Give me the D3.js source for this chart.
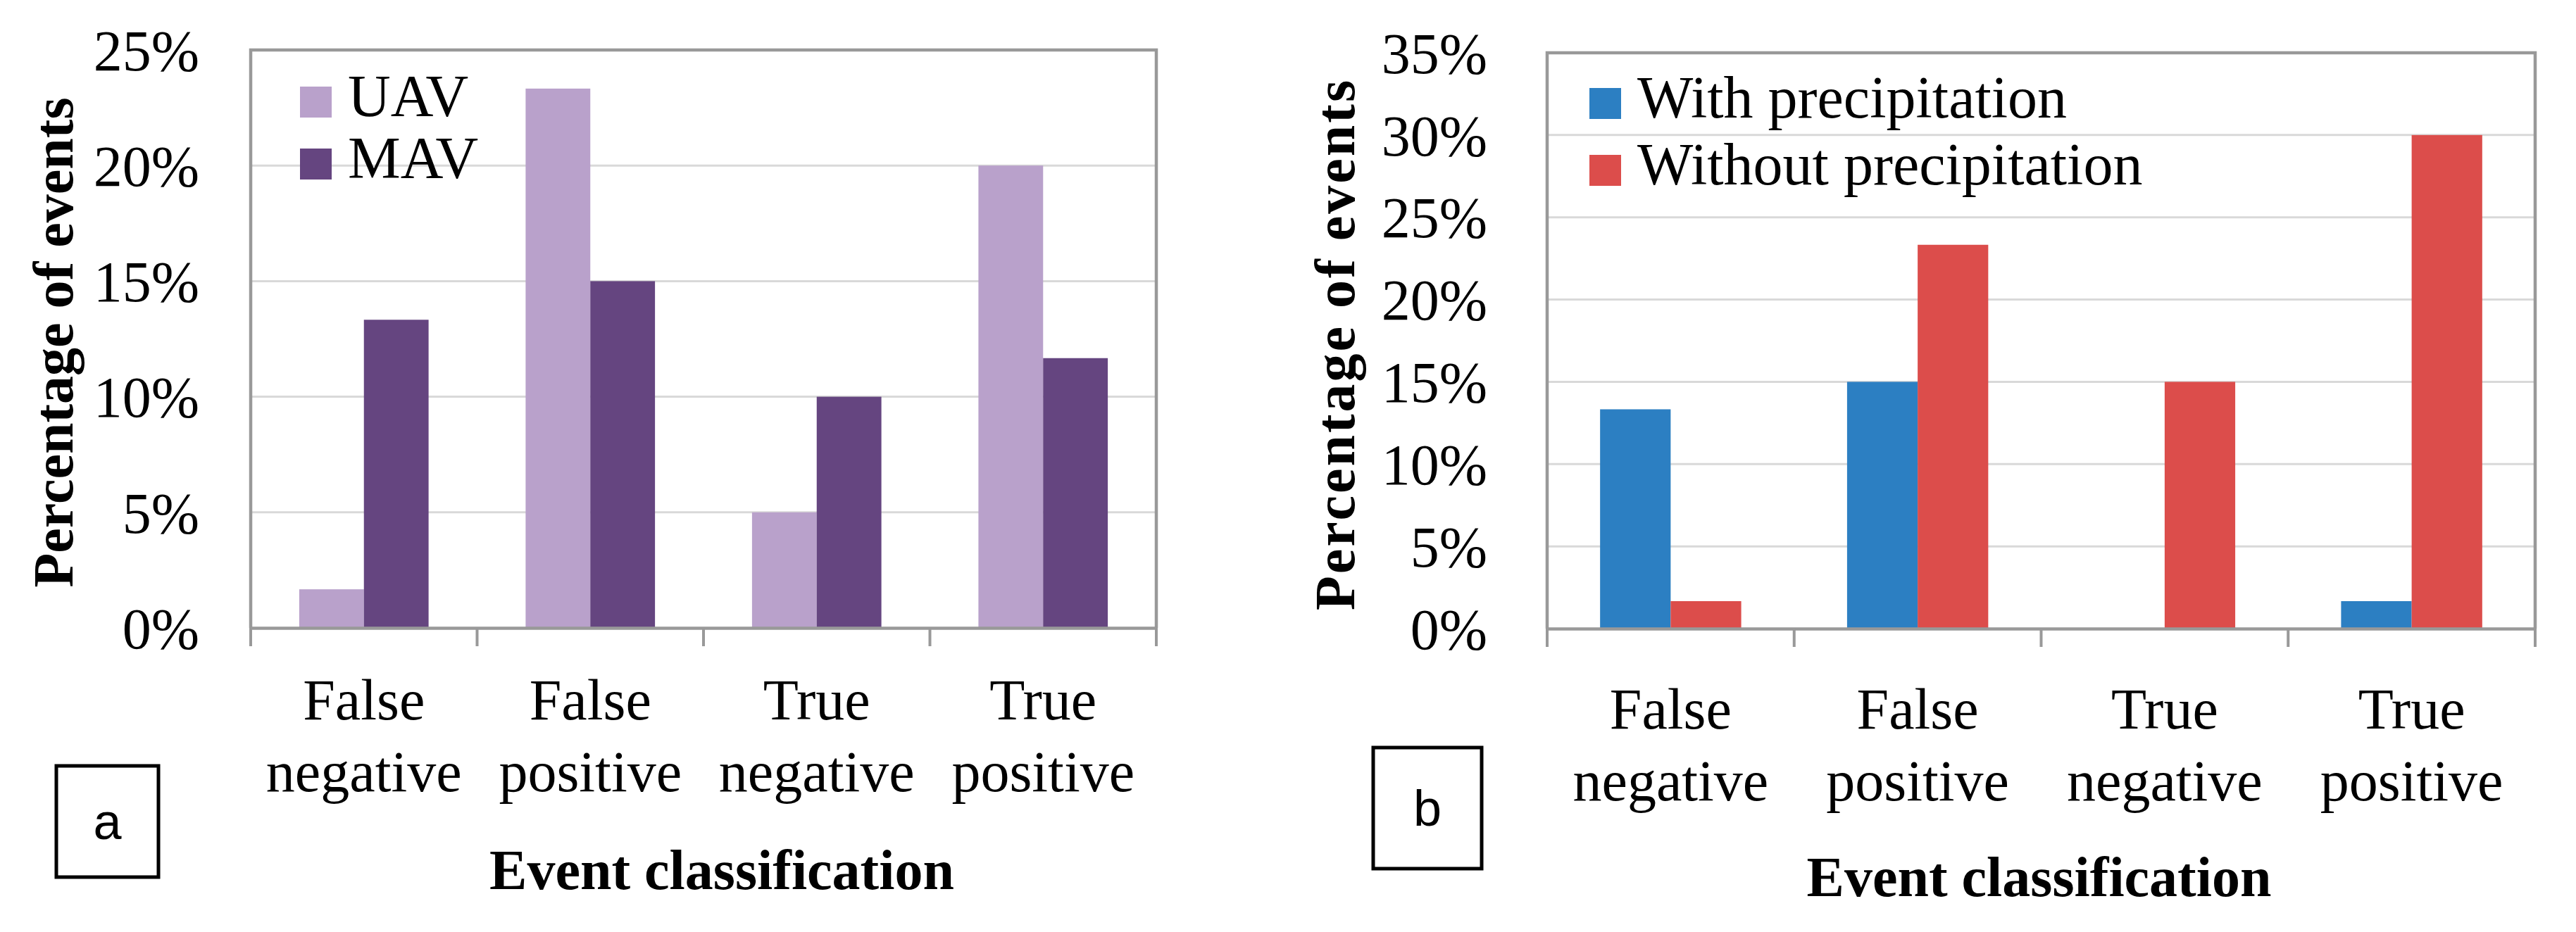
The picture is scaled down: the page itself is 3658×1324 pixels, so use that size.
<!DOCTYPE html>
<html>
<head>
<meta charset="utf-8">
<script src="https://cdn.jsdelivr.net/npm/d3@7"></script>
<style>
  body { margin: 0; background: #fff; }
  svg text { fill: #000; }
</style>
</head>
<body>
<svg id="chart" width="3658" height="1324"></svg>
<script>
// categories and values (percent of events)
const categories = ["False negative", "False positive", "True negative", "True positive"];

const seriesA = ["UAV", "MAV"];
const uavValues = [1.67, 23.33, 5, 20];
const mavValues = [13.33, 15, 10, 11.67];
const ticksA = [0, 5, 10, 15, 20, 25];

const seriesB = ["With precipitation", "Without precipitation"];
const withPrecip = [13.33, 15, 0, 1.67];
const withoutPrecip = [1.67, 23.33, 15, 30];
const ticksB = [0, 5, 10, 15, 20, 25, 30, 35];

const svg = d3.select("#chart");
const serif = "'Liberation Serif', 'Times New Roman', serif";

function drawPanel(opt) {
    const g = svg.append("g");
    const x = d3.scaleBand().domain(categories).range([opt.left, opt.right]);
    const xs = d3.scaleBand().domain(opt.series).range([0, x.bandwidth()]).paddingOuter(0.75);
    const y = d3.scaleLinear().domain([0, d3.max(opt.ticks)]).range([opt.bottom, opt.top]);
    const color = d3.scaleOrdinal().domain(opt.series).range(opt.colors);

    // gridlines
    g.selectAll(".grid")
        .data(opt.ticks.slice(1, -1))
        .enter().append("line")
        .attr("x1", opt.left).attr("x2", opt.right)
        .attr("y1", d => y(d)).attr("y2", d => y(d))
        .attr("stroke", "#d9d9d9")
        .attr("stroke-width", 3);

    // bars
    const rows = [];
    categories.forEach((c, i) => {
        opt.series.forEach((s, j) => rows.push({ cat: c, s: s, v: opt.values[j][i] }));
    });
    g.selectAll(".bar")
        .data(rows)
        .enter().append("rect")
        .attr("x", d => x(d.cat) + xs(d.s))
        .attr("width", xs.bandwidth())
        .attr("y", d => y(d.v))
        .attr("height", d => y(0) - y(d.v))
        .attr("fill", d => color(d.s));

    // plot frame
    g.append("path")
        .attr("d", `M${opt.left},${opt.bottom}V${opt.top}H${opt.right}V${opt.bottom}`)
        .attr("fill", "none")
        .attr("stroke", "#999")
        .attr("stroke-width", 4.5);

    // x axis with ticks between categories
    const xAxis = d3.axisBottom(x).tickSize(0).tickFormat("");
    g.append("g")
        .attr("transform", `translate(0,${opt.bottom})`)
        .call(xAxis)
        .call(a => a.select(".domain").attr("stroke", "#999").attr("stroke-width", 4.5));
    const bounds = categories.map(c => x(c)).concat([opt.right]);
    g.selectAll(".xtick")
        .data(bounds)
        .enter().append("line")
        .attr("x1", d => d).attr("x2", d => d)
        .attr("y1", opt.bottom).attr("y2", opt.bottom + 26)
        .attr("stroke", "#999")
        .attr("stroke-width", 4);

    // category labels, two lines
    const lab = g.selectAll(".cat")
        .data(categories)
        .enter().append("text")
        .attr("text-anchor", "middle")
        .attr("font-family", serif)
        .attr("font-size", 82);
    lab.append("tspan")
        .attr("x", d => x(d) + x.bandwidth() / 2)
        .attr("y", opt.catY)
        .text(d => d.split(" ")[0]);
    lab.append("tspan")
        .attr("x", d => x(d) + x.bandwidth() / 2)
        .attr("y", opt.catY + 102)
        .text(d => d.split(" ")[1]);

    // y tick labels
    g.selectAll(".ylab")
        .data(opt.ticks)
        .enter().append("text")
        .attr("x", opt.yLabelX)
        .attr("y", d => y(d))
        .attr("dy", "0.35em")
        .attr("text-anchor", "end")
        .attr("font-family", serif)
        .attr("font-size", 82)
        .text(d => d + "%");

    // axis titles
    g.append("text")
        .attr("transform", `translate(${opt.yTitleX},${(opt.top + opt.bottom) / 2 + 5}) rotate(-90)`)
        .attr("text-anchor", "middle")
        .attr("dy", "0.35em")
        .attr("font-family", serif)
        .attr("font-weight", "bold")
        .attr("font-size", 80)
        .attr("letter-spacing", opt.titleSpacing)
        .text("Percentage of events");
    g.append("text")
        .attr("x", (opt.left + opt.right) / 2 + opt.xTitleShift)
        .attr("y", opt.xTitleY)
        .attr("text-anchor", "middle")
        .attr("font-family", serif)
        .attr("font-weight", "bold")
        .attr("font-size", 80)
        .text("Event classification");

    // legend
    const leg = g.selectAll(".leg")
        .data(opt.series)
        .enter().append("g")
        .attr("transform", (d, i) => `translate(${opt.legX},${opt.legY + i * opt.legStep})`);
    leg.append("rect")
        .attr("x", 0).attr("y", -42)
        .attr("width", 45).attr("height", 44)
        .attr("fill", d => color(d));
    leg.append("text")
        .attr("x", 68)
        .attr("y", 0)
        .attr("font-family", serif)
        .attr("font-size", 84)
        .text(d => d);

    // panel letter box
    g.append("rect")
        .attr("x", opt.box[0]).attr("y", opt.box[1])
        .attr("width", opt.box[2]).attr("height", opt.box[3])
        .attr("fill", "none")
        .attr("stroke", "#000")
        .attr("stroke-width", 5);
    g.append("text")
        .attr("x", opt.box[0] + opt.box[2] / 2)
        .attr("y", opt.box[1] + opt.box[3] / 2)
        .attr("dy", "0.35em")
        .attr("text-anchor", "middle")
        .attr("font-family", "'Liberation Sans', Arial, sans-serif")
        .attr("font-size", 72)
        .text(opt.letter);
}

drawPanel({
    left: 356, right: 1642, top: 71, bottom: 892,
    series: seriesA, values: [uavValues, mavValues], colors: ["#b9a1cb", "#654580"],
    ticks: ticksA, yLabelX: 283, yTitleX: 75, titleSpacing: 0,
    catY: 1022, xTitleY: 1263, xTitleShift: 26,
    legX: 426, legY: 165, legStep: 88,
    box: [80, 1088, 145, 158], letter: "a"
});

drawPanel({
    left: 2197, right: 3600, top: 75, bottom: 893,
    series: seriesB, values: [withPrecip, withoutPrecip], colors: ["#2c7fc2", "#dc4d4b"],
    ticks: ticksB, yLabelX: 2112, yTitleX: 1895, titleSpacing: 3,
    catY: 1035, xTitleY: 1273, xTitleShift: -3,
    legX: 2257, legY: 167, legStep: 95,
    box: [1950, 1062, 154, 172], letter: "b"
});
</script>
</body>
</html>
